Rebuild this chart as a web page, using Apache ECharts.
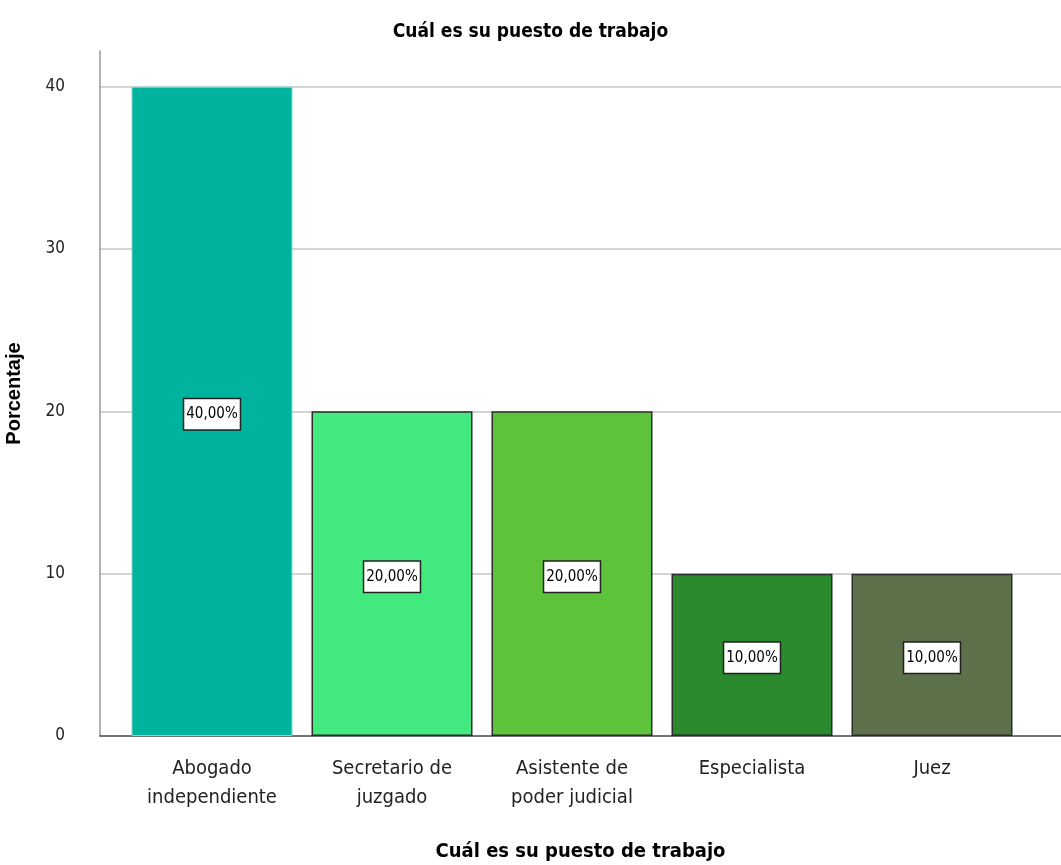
<!DOCTYPE html>
<html>
<head>
<meta charset="utf-8">
<script src="https://cdn.jsdelivr.net/npm/echarts@6/dist/echarts.min.js"></script>
<style>
  html, body { margin: 0; padding: 0; background: #fff; }
  #chart { width: 1061px; height: 865px; }
</style>
</head>
<body>
<div id="chart"></div>
<script>
// datos
const categories = ['Abogado\nindependiente', 'Secretario de\njuzgado', 'Asistente de\npoder judicial', 'Especialista', 'Juez'];
const percentages = [40, 20, 20, 10, 10];
const barColors = ['#00b39e', '#42e97f', '#5dc33b', '#2a8a2d', '#5c7049'];
const yTicks = [0, 10, 20, 30, 40];

const narrow = "'Liberation Sans Narrow', 'Arial Narrow', 'DejaVu Sans Condensed', 'Liberation Sans', sans-serif";
const yMax = 42.2;

const chart = echarts.init(document.getElementById('chart'));

const option = {
  animation: false,
  title: {
    text: 'Cuál es su puesto de trabajo',
    left: 'center',
    top: 18,
    textStyle: { fontFamily: narrow, fontSize: 19, fontWeight: 'bold', color: '#000' }
  },
  grid: [
    { left: 100, right: 0, top: 51, bottom: 129, outerBoundsMode: 'none', containLabel: false },
    { left: 122, right: 39, top: 51, bottom: 129, outerBoundsMode: 'none', containLabel: false }
  ],
  xAxis: [
    {
      gridIndex: 0, type: 'value', min: 0, max: 1,
      axisLine: { show: true, lineStyle: { color: '#555', width: 1.5 } },
      axisTick: { show: false }, axisLabel: { show: false }, splitLine: { show: false },
      name: 'Cuál es su puesto de trabajo', nameLocation: 'middle', nameGap: 106,
      nameTextStyle: { fontFamily: narrow, fontSize: 20, fontWeight: 'bold', color: '#000' }
    },
    {
      gridIndex: 1, type: 'category', data: categories,
      axisLine: { show: false }, axisTick: { show: false },
      axisLabel: { fontFamily: narrow, fontSize: 20, color: '#222', lineHeight: 29, margin: 18 }
    }
  ],
  yAxis: [
    {
      gridIndex: 0, type: 'value', min: 0, max: yMax, interval: 10,
      axisLine: { show: true, lineStyle: { color: '#999', width: 1.5 } },
      axisTick: { show: false },
      axisLabel: {
        fontFamily: narrow, fontSize: 17, color: '#222', margin: 35, showMaxLabel: false,
        formatter: v => (yTicks.includes(v) ? String(v) : '')
      },
      splitLine: { show: true, showMaxLine: false, lineStyle: { color: '#d4d4d4', width: 2 } },
      name: 'Porcentaje', nameLocation: 'middle', nameGap: 76,
      nameTextStyle: { fontFamily: "'Liberation Sans', Arial, sans-serif", fontSize: 20, fontWeight: 'bold', color: '#000' }
    },
    {
      gridIndex: 1, type: 'value', min: 0, max: yMax, show: false, splitLine: { show: false }
    }
  ],
  series: [{
    type: 'bar',
    xAxisIndex: 1, yAxisIndex: 1,
    barWidth: 161,
    data: percentages.map((v, i) => ({
      value: v,
      itemStyle: {
        color: barColors[i],
        borderColor: i === 0 ? '#7fd9ce' : '#2b2b2b',
        borderWidth: i === 0 ? 1 : 1.5
      }
    })),
    label: {
      show: true, position: 'inside',
      formatter: p => p.value.toFixed(2).replace('.', ',') + '%',
      fontFamily: narrow, fontSize: 15, color: '#000',
      backgroundColor: '#fff', borderColor: '#222', borderWidth: 1.5,
      padding: [8, 2, 7, 2], offset: [0, 3]
    }
  }]
};

chart.setOption(option);
</script>
</body>
</html>
